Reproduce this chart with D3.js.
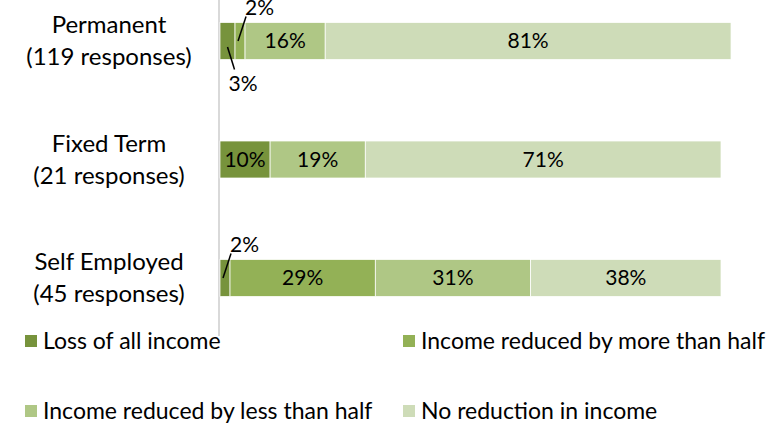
<!DOCTYPE html>
<html>
<head>
<meta charset="utf-8">
<script src="https://cdn.jsdelivr.net/npm/d3@7"></script>
<style>
  body { margin: 0; background: #fff; }
  text { font-family: Lato, "Open Sans", sans-serif; fill: #000; }
</style>
</head>
<body>
<svg width="778" height="428"></svg>
<script>
// data
var groups = ["Permanent", "Fixed Term", "Self Employed"];
var responses = ["(119 responses)", "(21 responses)", "(45 responses)"];
var seriesNames = ["Loss of all income", "Income reduced by more than half",
                   "Income reduced by less than half", "No reduction in income"];
var lossAll = [3, 10, 2];
var moreThanHalf = [2, 0, 29];
var lessThanHalf = [16, 19, 31];
var noReduction = [81, 71, 38];

var colors = ["#77933c", "#93b156", "#afc785", "#cedcb8"];

var svg = d3.select("svg");

var rows = groups.map(function(g, i) {
    var vals = [lossAll[i], moreThanHalf[i], lessThanHalf[i], noReduction[i]];
    var x0 = 0;
    var segs = vals.map(function(v, k) {
        var s = {row: i, k: k, v: v, x0: x0, x1: x0 + v};
        x0 += v;
        return s;
    }).filter(function(s) { return s.v > 0; });
    return {name: g, resp: responses[i], segs: segs};
});

var xScale = d3.scaleLinear().domain([0, 100]).range([220, 721]);
var yScale = d3.scalePoint().domain(groups).range([41, 278]);
var barH = 37;

// vertical axis line
svg.append("line")
    .attr("x1", 219).attr("x2", 219)
    .attr("y1", 0).attr("y2", 336)
    .attr("stroke", "#d9d9d9").attr("stroke-width", 2);

// category labels
var lab = svg.append("g").selectAll("g").data(rows).enter().append("g");
lab.append("text")
    .attr("x", 109).attr("y", function(d) { return yScale(d.name) - 8; })
    .attr("text-anchor", "middle").attr("font-size", 24)
    .text(function(d) { return d.name; });
lab.append("text")
    .attr("x", 109).attr("y", function(d) { return yScale(d.name) + 24; })
    .attr("text-anchor", "middle").attr("font-size", 24)
    .text(function(d) { return d.resp; });

// bars
var bars = svg.append("g").selectAll("g").data(rows).enter().append("g");
bars.selectAll("rect")
    .data(function(d) { return d.segs; })
    .enter().append("rect")
    .attr("x", function(d) { return xScale(d.x0); })
    .attr("width", function(d) { return xScale(d.x1) - xScale(d.x0); })
    .attr("y", function(d) { return yScale(groups[d.row]) - barH / 2; })
    .attr("height", barH)
    .attr("fill", function(d) { return colors[d.k]; })
    .attr("stroke", "#fff").attr("stroke-width", 0.75);

// value labels: wide segments inside, narrow ones with a leader line
rows.forEach(function(r) {
    var small = r.segs.filter(function(s) { return xScale(s.x1) - xScale(s.x0) < 30; });
    r.segs.forEach(function(s) {
        var cx = (xScale(s.x0) + xScale(s.x1)) / 2;
        var cy = yScale(r.name);
        var idx = small.indexOf(s);
        if (idx < 0) {
            svg.append("text")
                .attr("x", cx).attr("y", cy + 7)
                .attr("text-anchor", "middle").attr("font-size", 21)
                .text(s.v + "%");
        } else if (idx === small.length - 1) {
            // above
            var ex = cx + 6, ey = cy - barH / 2 - 6;
            svg.append("line")
                .attr("x1", cx - 2).attr("y1", cy)
                .attr("x2", ex).attr("y2", ey)
                .attr("stroke", "#000").attr("stroke-width", 1.5);
            svg.append("text")
                .attr("x", ex - 1).attr("y", ey - 2)
                .attr("font-size", 21).text(s.v + "%");
        } else {
            // below
            var bx = cx + 7, by = cy + barH / 2 + 10;
            svg.append("line")
                .attr("x1", cx).attr("y1", cy + 6)
                .attr("x2", bx).attr("y2", by)
                .attr("stroke", "#000").attr("stroke-width", 1.5);
            svg.append("text")
                .attr("x", bx - 6).attr("y", by + 21)
                .attr("font-size", 21).text(s.v + "%");
        }
    });
});

// legend
var legX = [25, 403], legY = [341, 411];
var leg = svg.append("g").selectAll("g").data(seriesNames).enter().append("g")
    .attr("transform", function(d, i) {
        return "translate(" + legX[i % 2] + "," + legY[Math.floor(i / 2)] + ")";
    });
leg.append("rect")
    .attr("x", 0).attr("y", -6).attr("width", 12).attr("height", 12)
    .attr("fill", function(d, i) { return colors[i]; });
leg.append("text")
    .attr("x", 18).attr("y", 8).attr("font-size", 23)
    .text(function(d) { return d; });
</script>
</body>
</html>
